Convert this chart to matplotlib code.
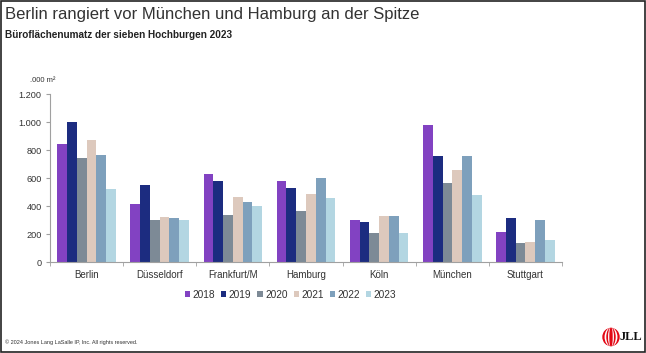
import numpy as np
import matplotlib
matplotlib.use("Agg")
import matplotlib.pyplot as plt
from matplotlib.patches import Ellipse, Rectangle

plt.rcParams["font.family"] = ["Liberation Sans", "DejaVu Sans"]

# data (1.000 m²)
cities = ["Berlin", "Düsseldorf", "Frankfurt/M", "Hamburg", "Köln", "München", "Stuttgart"]
years = ["2018", "2019", "2020", "2021", "2022", "2023"]
v2018 = [840, 412, 631, 579, 302, 976, 214]
v2019 = [997, 548, 579, 529, 288, 757, 317]
v2020 = [743, 302, 336, 362, 207, 567, 138]
v2021 = [869, 324, 467, 486, 329, 660, 140]
v2022 = [764, 317, 431, 598, 326, 757, 302]
v2023 = [524, 300, 400, 455, 207, 479, 155]
series = [v2018, v2019, v2020, v2021, v2022, v2023]
colors = ["#8242C2", "#1C2C80", "#7D8A96", "#DDC9BD", "#7EA0BC", "#B3D6E2"]

fig = plt.figure(figsize=(6.46, 3.53), dpi=100)
ax = fig.add_axes([50 / 646, 1 - 262 / 353, 512 / 646, 168 / 353])

x = np.arange(len(cities))
bw = 0.8 / len(years)
for i, (vals, c) in enumerate(zip(series, colors)):
    ax.bar(x - 0.4 + bw * (i + 0.5), vals, bw, color=c, label=years[i])

ax.set_xlim(-0.5, len(cities) - 0.5)
ax.set_ylim(0, 1200)
ax.set_yticks(range(0, 1201, 200))
ax.set_yticklabels([f"{v:,}".replace(",", ".") for v in range(0, 1201, 200)])
ax.set_xticks(x)
ax.set_xticklabels(cities)
ax.set_xticks(np.arange(-0.5, len(cities)), minor=True)
ax.tick_params(axis="x", which="major", length=0, pad=6, labelsize=7, labelcolor="#333333")
ax.tick_params(axis="x", which="minor", length=3, color="#A0A0A0")
ax.tick_params(axis="y", length=3, color="#A0A0A0", labelsize=6.6, labelcolor="#333333", pad=3)
for s in ["top", "right"]:
    ax.spines[s].set_visible(False)
ax.spines["left"].set_color("#A0A0A0")
ax.spines["bottom"].set_color("#A0A0A0")

ax.legend(loc="upper center", bbox_to_anchor=(0.47, -0.11), ncol=6, frameon=False,
          fontsize=7.3, handlelength=0.5, handleheight=0.5, handletextpad=0.25,
          columnspacing=0.6, labelcolor="#333333")

fig.text(5 / 646, 1 - 15 / 353, "Berlin rangiert vor München und Hamburg an der Spitze",
         fontsize=12, color="#333333", va="center")
fig.text(5 / 646, 1 - 35 / 353, "Büroflächenumatz der sieben Hochburgen 2023",
         fontsize=7.2, fontweight="bold", color="#222222", va="center")
fig.text(55 / 646, 1 - 80 / 353, ".000 m²", fontsize=5.5, color="#333333",
         ha="right", va="center")
fig.text(5 / 646, 1 - 342 / 353, "© 2024 Jones Lang LaSalle IP, Inc. All rights reserved.",
         fontsize=4, color="#333333", va="center")

# JLL logo
lx, ly = 611 / 646, 1 - 337 / 353
for w, c in [(16, "#E30613"), (11.5, "white"), (8, "#E30613"), (4.5, "white"), (2, "#E30613")]:
    fig.patches.append(Ellipse((lx, ly), w / 646, 17 / 353, color=c,
                               transform=fig.transFigure, figure=fig))
fig.text(620 / 646, ly, "JLL", fontsize=9, fontweight="bold", family="Liberation Serif",
         color="#111111", va="center")

# outer frame
fig.patches.append(Rectangle((0.001, 0.002), 0.997, 0.996, fill=False, edgecolor="#222222",
                             linewidth=1.2, transform=fig.transFigure, figure=fig))

fig.savefig("out.png", dpi=100)
